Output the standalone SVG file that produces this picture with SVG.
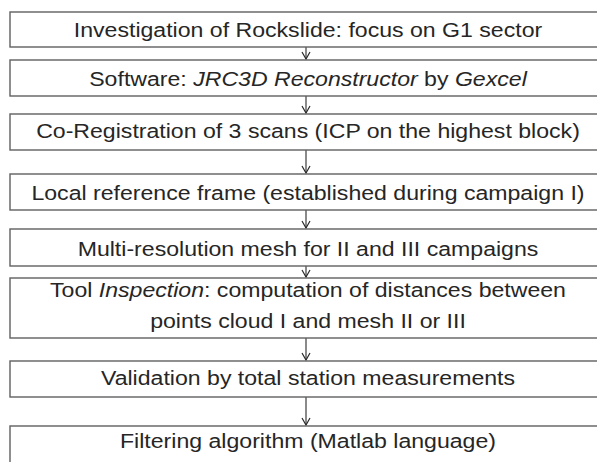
<svg xmlns="http://www.w3.org/2000/svg" width="597" height="462" viewBox="0 0 597 462">
<defs>
<style>
.box{fill:#fff;stroke:#606060;stroke-width:1.4}
.t{font-family:"Liberation Sans",Arial,sans-serif;font-size:21px;fill:#262626;text-anchor:middle}
.c{stroke:#2a2a2a;stroke-width:1.1;fill:none}
</style>
<marker id="ah" markerWidth="12" markerHeight="12" refX="9" refY="6" orient="auto" markerUnits="userSpaceOnUse" viewBox="0 0 12 12">
<path d="M2,2 L9,6 L2,10" fill="none" stroke="#2a2a2a" stroke-width="1.2"/>
</marker>
</defs>
<rect width="597" height="462" fill="#fff"/>
<g id="connectors">
<line class="c" x1="306" y1="47" x2="306" y2="59" marker-end="url(#ah)"/>
<line class="c" x1="306" y1="96" x2="306" y2="113" marker-end="url(#ah)"/>
<line class="c" x1="306" y1="150" x2="306" y2="173" marker-end="url(#ah)"/>
<line class="c" x1="306" y1="210" x2="306" y2="228" marker-end="url(#ah)"/>
<line class="c" x1="306" y1="266" x2="306" y2="277" marker-end="url(#ah)"/>
<line class="c" x1="306" y1="338" x2="306" y2="360" marker-end="url(#ah)"/>
<line class="c" x1="306" y1="397" x2="306" y2="425" marker-end="url(#ah)"/>
</g>
<g id="n1"><rect class="box" x="10" y="12" width="600" height="35"/>
<text class="t" transform="matrix(1.1 0 0 1 0 0)" x="280" y="37">Investigation of Rockslide: focus on G1 sector</text></g>
<g id="n2"><rect class="box" x="10" y="60" width="600" height="36"/>
<text class="t" transform="matrix(1.1 0 0 1 0 0)" x="280" y="86">Software: <tspan font-style="italic">JRC3D Reconstructor</tspan> by <tspan font-style="italic">Gexcel</tspan></text></g>
<g id="n3"><rect class="box" x="10" y="114" width="600" height="36"/>
<text class="t" transform="matrix(1.1 0 0 1 0 0)" x="280" y="138.5">Co-Registration of 3 scans (ICP on the highest block)</text></g>
<g id="n4"><rect class="box" x="10" y="174" width="600" height="36"/>
<text class="t" transform="matrix(1.1 0 0 1 0 0)" x="280" y="200.5">Local reference frame (established during campaign I)</text></g>
<g id="n5"><rect class="box" x="10" y="229" width="600" height="37"/>
<text class="t" transform="matrix(1.1 0 0 1 0 0)" x="280" y="256">Multi-resolution mesh for II and III campaigns</text></g>
<g id="n6"><rect class="box" x="10" y="278" width="600" height="60"/>
<text class="t" transform="matrix(1.1 0 0 1 0 0)" x="280" y="297">Tool <tspan font-style="italic">Inspection</tspan>: computation of distances between</text>
<text class="t" transform="matrix(1.1 0 0 1 0 0)" x="280" y="328">points cloud I and mesh II or III</text></g>
<g id="n7"><rect class="box" x="10" y="361" width="600" height="36"/>
<text class="t" transform="matrix(1.1 0 0 1 0 0)" x="280" y="385">Validation by total station measurements</text></g>
<g id="n8"><rect class="box" x="10" y="426" width="600" height="60"/>
<text class="t" transform="matrix(1.1 0 0 1 0 0)" x="280" y="448">Filtering algorithm (Matlab language)</text></g>
</svg>
